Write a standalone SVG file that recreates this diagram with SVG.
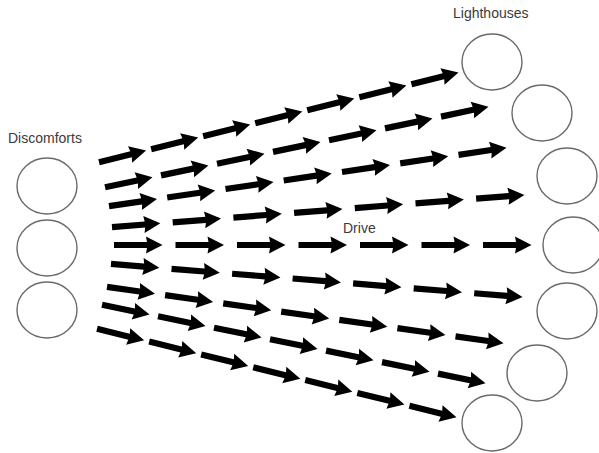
<svg xmlns="http://www.w3.org/2000/svg" xmlns:xlink="http://www.w3.org/1999/xlink" width="599" height="453" viewBox="0 0 599 453">
<style>
.node{fill:#ffffff;stroke:#6a6a6a;stroke-width:1.4}
.lbl{font-family:"Liberation Sans",Arial,sans-serif;font-size:14px;fill:#3a3a3a}
.arr{fill:#000000}
</style>
<defs>
<path id="a" class="arr" d="M-1,-3.1 L32,-3.1 L31,-8.5 L47.5,0 L31,8.5 L32,3.1 L-1,3.1 Z"/>
</defs>
<rect width="599" height="453" fill="#ffffff"/>
<g id="discomforts">
<text class="lbl" x="8" y="143">Discomforts</text>
<g id="d1"><ellipse class="node" cx="47" cy="186" rx="30" ry="28"/></g>
<g id="d2"><ellipse class="node" cx="47" cy="248" rx="30" ry="28"/></g>
<g id="d3"><ellipse class="node" cx="47" cy="310" rx="30" ry="28"/></g>
</g>
<g id="lighthouses">
<text class="lbl" x="453" y="18">Lighthouses</text>
<g id="l1"><ellipse class="node" cx="492" cy="62" rx="30" ry="28"/></g>
<g id="l2"><ellipse class="node" cx="542" cy="113" rx="30" ry="28"/></g>
<g id="l3"><ellipse class="node" cx="567" cy="176" rx="30" ry="28"/></g>
<g id="l4"><ellipse class="node" cx="573" cy="245" rx="30" ry="28"/></g>
<g id="l5"><ellipse class="node" cx="567" cy="311" rx="30" ry="28"/></g>
<g id="l6"><ellipse class="node" cx="537" cy="373" rx="30" ry="28"/></g>
<g id="l7"><ellipse class="node" cx="492" cy="423" rx="30" ry="28"/></g>
</g>
<g id="connectors">
<text class="lbl" x="343" y="233">Drive</text>
<g id="row1">
<use xlink:href="#a" transform="translate(100,162) rotate(-14)"/>
<use xlink:href="#a" transform="translate(152.1,149) rotate(-14)"/>
<use xlink:href="#a" transform="translate(204.1,136) rotate(-14)"/>
<use xlink:href="#a" transform="translate(256.2,123.1) rotate(-14)"/>
<use xlink:href="#a" transform="translate(308.2,110.1) rotate(-14)"/>
<use xlink:href="#a" transform="translate(360.3,97.1) rotate(-14)"/>
<use xlink:href="#a" transform="translate(412.4,84.1) rotate(-14)"/>
</g>
<g id="row2">
<use xlink:href="#a" transform="translate(106,187) rotate(-11.86)"/>
<use xlink:href="#a" transform="translate(162,175.2) rotate(-11.86)"/>
<use xlink:href="#a" transform="translate(218,163.5) rotate(-11.86)"/>
<use xlink:href="#a" transform="translate(274,151.7) rotate(-11.86)"/>
<use xlink:href="#a" transform="translate(330,140) rotate(-11.86)"/>
<use xlink:href="#a" transform="translate(386,128.2) rotate(-11.86)"/>
<use xlink:href="#a" transform="translate(442,116.4) rotate(-11.86)"/>
</g>
<g id="row3">
<use xlink:href="#a" transform="translate(110,206) rotate(-8.35)"/>
<use xlink:href="#a" transform="translate(168.2,197.4) rotate(-8.35)"/>
<use xlink:href="#a" transform="translate(226.5,188.9) rotate(-8.35)"/>
<use xlink:href="#a" transform="translate(284.7,180.3) rotate(-8.35)"/>
<use xlink:href="#a" transform="translate(343,171.8) rotate(-8.35)"/>
<use xlink:href="#a" transform="translate(401.2,163.2) rotate(-8.35)"/>
<use xlink:href="#a" transform="translate(459.5,154.7) rotate(-8.35)"/>
</g>
<g id="row4">
<use xlink:href="#a" transform="translate(113,227) rotate(-4.46)"/>
<use xlink:href="#a" transform="translate(173.7,222.3) rotate(-4.46)"/>
<use xlink:href="#a" transform="translate(234.4,217.5) rotate(-4.46)"/>
<use xlink:href="#a" transform="translate(295.1,212.8) rotate(-4.46)"/>
<use xlink:href="#a" transform="translate(355.8,208) rotate(-4.46)"/>
<use xlink:href="#a" transform="translate(416.5,203.3) rotate(-4.46)"/>
<use xlink:href="#a" transform="translate(477.1,198.6) rotate(-4.46)"/>
</g>
<g id="row5">
<use xlink:href="#a" transform="translate(115,245)"/>
<use xlink:href="#a" transform="translate(176.5,245)"/>
<use xlink:href="#a" transform="translate(238,245)"/>
<use xlink:href="#a" transform="translate(299.5,245)"/>
<use xlink:href="#a" transform="translate(361,245)"/>
<use xlink:href="#a" transform="translate(422.5,245)"/>
<use xlink:href="#a" transform="translate(484,245)"/>
</g>
<g id="row6">
<use xlink:href="#a" transform="translate(112,264) rotate(4.61)"/>
<use xlink:href="#a" transform="translate(172.5,268.9) rotate(4.61)"/>
<use xlink:href="#a" transform="translate(233.1,273.8) rotate(4.61)"/>
<use xlink:href="#a" transform="translate(293.6,278.6) rotate(4.61)"/>
<use xlink:href="#a" transform="translate(354.1,283.5) rotate(4.61)"/>
<use xlink:href="#a" transform="translate(414.7,288.4) rotate(4.61)"/>
<use xlink:href="#a" transform="translate(475.2,293.3) rotate(4.61)"/>
</g>
<g id="row7">
<use xlink:href="#a" transform="translate(108,287) rotate(8.09)"/>
<use xlink:href="#a" transform="translate(166.1,295.3) rotate(8.09)"/>
<use xlink:href="#a" transform="translate(224.2,303.5) rotate(8.09)"/>
<use xlink:href="#a" transform="translate(282.2,311.8) rotate(8.09)"/>
<use xlink:href="#a" transform="translate(340.3,320) rotate(8.09)"/>
<use xlink:href="#a" transform="translate(398.4,328.3) rotate(8.09)"/>
<use xlink:href="#a" transform="translate(456.5,336.5) rotate(8.09)"/>
</g>
<g id="row8">
<use xlink:href="#a" transform="translate(103,305) rotate(11.57)"/>
<use xlink:href="#a" transform="translate(159,316.5) rotate(11.57)"/>
<use xlink:href="#a" transform="translate(215,327.9) rotate(11.57)"/>
<use xlink:href="#a" transform="translate(271,339.4) rotate(11.57)"/>
<use xlink:href="#a" transform="translate(327,350.8) rotate(11.57)"/>
<use xlink:href="#a" transform="translate(383,362.3) rotate(11.57)"/>
<use xlink:href="#a" transform="translate(439,373.8) rotate(11.57)"/>
</g>
<g id="row9">
<use xlink:href="#a" transform="translate(98,329) rotate(13.85)"/>
<use xlink:href="#a" transform="translate(150.1,341.8) rotate(13.85)"/>
<use xlink:href="#a" transform="translate(202.1,354.7) rotate(13.85)"/>
<use xlink:href="#a" transform="translate(254.2,367.5) rotate(13.85)"/>
<use xlink:href="#a" transform="translate(306.2,380.3) rotate(13.85)"/>
<use xlink:href="#a" transform="translate(358.3,393.2) rotate(13.85)"/>
<use xlink:href="#a" transform="translate(410.4,406) rotate(13.85)"/>
</g>
</g>
</svg>
